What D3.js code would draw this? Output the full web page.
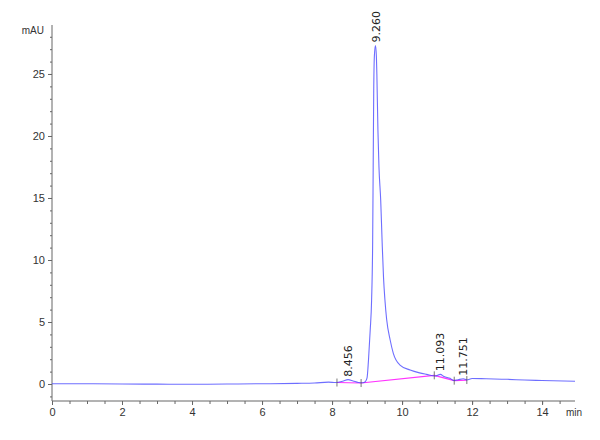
<!DOCTYPE html>
<html>
<head>
<meta charset="utf-8">
<title>Chromatogram</title>
<script src="https://d3js.org/d3.v7.min.js"></script>
<style>
  body { margin: 0; background: #ffffff; }
  svg { display: block; }
  .tick text { font-family: "Liberation Sans Narrow", "Arial Narrow", "Liberation Sans", Arial, sans-serif; font-size: 11px; fill: #333; }
  .axis path, .axis line { stroke: #666; }
  .peak-label { font-family: "DejaVu Sans", sans-serif; font-size: 11px; fill: #222; }
</style>
</head>
<body>
<div id="chart"></div>
<script>
// retention time (min) and detector signal (mAU)
const times = [0, 1, 2, 3, 4, 5, 6, 7, 7.5, 7.9, 8.1, 8.3, 8.456, 8.6, 8.75, 8.88, 8.95, 9.0, 9.04,
  9.09, 9.13, 9.16, 9.175, 9.19, 9.21, 9.24, 9.265, 9.28, 9.31, 9.34, 9.39, 9.43, 9.47, 9.51, 9.56,
  9.66, 9.75, 9.94, 10.23, 10.5, 10.7, 10.94, 11.093, 11.2, 11.37, 11.48, 11.6, 11.751, 11.85,
  12.0, 12.4, 13.0, 13.5, 14.0, 14.94];
const signal = [0.02, 0.02, 0.0, -0.01, -0.02, 0.0, 0.02, 0.05, 0.08, 0.15, 0.12, 0.22, 0.35, 0.25,
  0.12, 0.1, 0.2, 0.5, 1.9, 4.35, 6.8, 11.5, 17.5, 23.5, 26.5, 27.3, 26.5, 25.0, 20.5, 17.5, 14.8,
  11.5, 8.6, 6.8, 5.2, 3.55, 2.47, 1.53, 1.13, 0.9, 0.78, 0.65, 0.78, 0.6, 0.46, 0.28, 0.35, 0.42,
  0.33, 0.45, 0.42, 0.38, 0.32, 0.28, 0.22];

// integration baselines: start/end time and level
const baseStartT = [8.14, 8.83, 10.92, 11.49];
const baseEndT = [8.83, 10.92, 11.49, 11.85];
const baseStartY = [0.12, 0.08, 0.7, 0.27];
const baseEndY = [0.08, 0.7, 0.27, 0.32];

// integration markers
const markT = [8.14, 8.83, 10.92, 11.49, 11.85];
const markY = [0.12, 0.08, 0.7, 0.27, 0.32];

// peak annotations
const peakNames = ['8.456', '9.260', '11.093', '11.751'];
const peakTimes = [8.456, 9.26, 11.093, 11.751];
const peakHeights = [0.35, 27.3, 0.78, 0.42];

const xTicks = [0, 2, 4, 6, 8, 10, 12, 14];
const yTicks = [0, 5, 10, 15, 20, 25];

const W = 600, H = 440;
const plotLeft = 52, plotRight = 575, plotTop = 25, plotBottom = 401;

const x = d3.scaleLinear().domain([0, 14.94]).range([plotLeft, plotRight]);
const y = d3.scaleLinear().domain([-1.37, 28.95]).range([plotBottom, plotTop]);

const svg = d3.select('#chart').append('svg')
  .attr('width', W)
  .attr('height', H);

// axes
const xAxis = svg.append('g').attr('class', 'axis')
  .attr('transform', `translate(0,${plotBottom})`)
  .call(d3.axisBottom(x).tickValues(xTicks).tickSize(4).tickPadding(3).tickFormat(d3.format('d')));
xAxis.select('.domain').attr('d', `M${plotLeft},0H${plotRight}`);
svg.append('g').attr('class', 'axis')
  .attr('transform', `translate(0,${plotBottom})`)
  .call(d3.axisBottom(x).tickValues(d3.range(0, 15, 0.5)).tickSize(3).tickFormat(''))
  .select('.domain').remove();

const yAxis = svg.append('g').attr('class', 'axis')
  .attr('transform', `translate(${plotLeft},0)`)
  .call(d3.axisLeft(y).tickValues(yTicks).tickSize(4).tickPadding(3).tickFormat(d3.format('d')));
yAxis.select('.domain').attr('d', `M0,${plotTop}V${plotBottom}`);
svg.append('g').attr('class', 'axis')
  .attr('transform', `translate(${plotLeft},0)`)
  .call(d3.axisLeft(y).tickValues(d3.range(-1, 29, 1)).tickSize(2).tickFormat(''))
  .select('.domain').remove();

svg.append('text')
  .attr('x', 44).attr('y', 34)
  .attr('text-anchor', 'end')
  .style('font-family', '"Liberation Sans Narrow", "Arial Narrow", Arial, sans-serif')
  .style('font-size', '10px').style('fill', '#333')
  .text('mAU');
svg.append('text')
  .attr('x', 566).attr('y', 416)
  .style('font-family', '"Liberation Sans Narrow", "Arial Narrow", Arial, sans-serif')
  .style('font-size', '10px').style('fill', '#333')
  .text('min');

// baselines
svg.append('g').selectAll('line')
  .data(d3.range(baseStartT.length))
  .enter().append('line')
  .attr('x1', i => x(baseStartT[i])).attr('y1', i => y(baseStartY[i]))
  .attr('x2', i => x(baseEndT[i])).attr('y2', i => y(baseEndY[i]))
  .attr('stroke', '#ff33ff')
  .attr('stroke-width', 1.2);

// signal trace
const line = d3.line()
  .x(d => x(d[0]))
  .y(d => y(d[1]))
  .curve(d3.curveMonotoneX);
svg.append('path')
  .datum(times.map((t, i) => [t, signal[i]]))
  .attr('d', line)
  .attr('fill', 'none')
  .attr('stroke', '#4a4aff')
  .attr('stroke-opacity', 0.8)
  .attr('stroke-width', 1.1);

svg.append('g').selectAll('line')
  .data(markT)
  .enter().append('line')
  .attr('x1', d => x(d)).attr('x2', d => x(d))
  .attr('y1', (d, i) => y(markY[i]) - 4)
  .attr('y2', (d, i) => y(markY[i]) + 4)
  .attr('stroke', '#555')
  .attr('stroke-width', 0.8);

// peak labels
svg.append('g').selectAll('text')
  .data(peakNames)
  .enter().append('text')
  .attr('class', 'peak-label')
  .attr('transform', (d, i) => `translate(${x(peakTimes[i])},${y(peakHeights[i]) - 3}) rotate(-90)`)
  .attr('dy', '0.35em')
  .text(d => d);
</script>
</body>
</html>
